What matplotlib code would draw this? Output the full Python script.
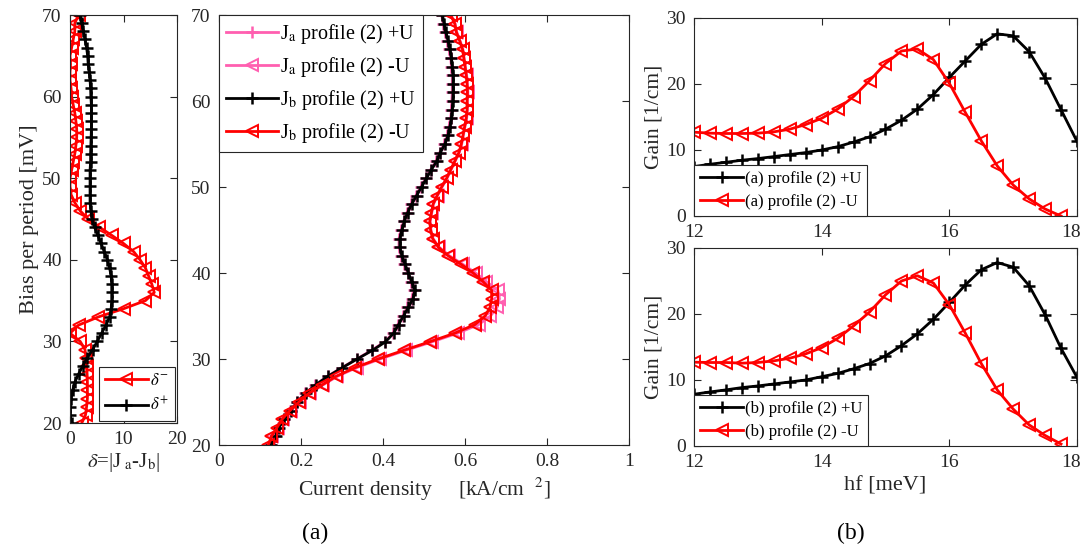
import numpy as np
import matplotlib.pyplot as plt
import matplotlib.transforms as mtrans

plt.rcParams["font.family"] = ["Liberation Serif", "DejaVu Serif"]
plt.rcParams["mathtext.fontset"] = "stix"

# ---- data ----
bias = np.arange(20, 71)  # mV, 20 ... 70

# delta (|Ja - Jb|) from bias 20 to 70
delta_minus = [2.2, 2.9, 3.1, 3.25, 3.25, 3.25, 3.2, 3.1, 3.0, 2.8, 1.9,
               0.0, 1.6, 5.3, 10.0, 14.1, 15.75, 15.3, 14.7, 14.1, 13.1,
               11.9, 10.0, 7.8, 5.5, 3.4, 1.9, 0.9, 0.2, 0.0, 0.0,
               0.3, 0.6, 0.9, 1.1, 1.25, 1.25, 1.1, 0.9, 0.6, 0.3,
               0.2, 0.0, 0.0, 0.1, 0.0, 0.3, 0.6, 0.9, 0.9, 1.6]
delta_plus = [0.3, 0.0, 0.0, 0.2, 0.5, 0.9, 1.6, 2.4, 3.25, 4.25, 5.1,
              5.9, 6.75, 7.4, 7.7, 7.8, 7.8, 7.8, 7.7, 7.4, 7.0,
              6.4, 5.8, 5.2, 4.6, 4.1, 3.9, 3.75, 3.75, 3.75, 3.75,
              3.75, 3.85, 3.85, 3.9, 3.95, 4.0, 4.0, 4.0, 4.0, 3.9,
              3.85, 3.75, 3.6, 3.4, 3.3, 3.1, 2.8, 2.5, 2.2, 1.9]

# current density [kA/cm^2], bias 20 ... 70
jb_plus = [0.128, 0.138, 0.146, 0.159, 0.175, 0.191, 0.211, 0.236, 0.266, 0.301, 0.337,
           0.374, 0.406, 0.426, 0.438, 0.450, 0.462, 0.473, 0.478, 0.470, 0.462,
           0.454, 0.446, 0.441, 0.441, 0.446, 0.452, 0.460, 0.470, 0.482, 0.494,
           0.506, 0.518, 0.531, 0.540, 0.551, 0.559, 0.563, 0.567, 0.569, 0.570,
           0.571, 0.571, 0.571, 0.569, 0.567, 0.563, 0.559, 0.553, 0.549, 0.545]
ja_plus = [0.126, 0.136, 0.145, 0.158, 0.174, 0.190, 0.210, 0.235, 0.265, 0.300, 0.336,
           0.372, 0.404, 0.424, 0.436, 0.448, 0.459, 0.470, 0.475, 0.468, 0.460,
           0.452, 0.444, 0.439, 0.439, 0.444, 0.450, 0.458, 0.468, 0.480, 0.492,
           0.504, 0.516, 0.529, 0.538, 0.549, 0.557, 0.561, 0.565, 0.567, 0.568,
           0.569, 0.569, 0.569, 0.567, 0.565, 0.561, 0.557, 0.551, 0.547, 0.543]
jb_minus = [0.120, 0.128, 0.141, 0.154, 0.173, 0.195, 0.219, 0.252, 0.286, 0.332, 0.388,
            0.450, 0.514, 0.575, 0.624, 0.649, 0.661, 0.665, 0.665, 0.644, 0.620,
            0.591, 0.559, 0.535, 0.521, 0.516, 0.514, 0.518, 0.522, 0.532, 0.543,
            0.555, 0.565, 0.575, 0.585, 0.591, 0.595, 0.599, 0.603, 0.605, 0.605,
            0.606, 0.605, 0.603, 0.600, 0.597, 0.594, 0.587, 0.579, 0.575, 0.565]
ja_minus = [0.122, 0.130, 0.143, 0.156, 0.175, 0.197, 0.221, 0.254, 0.289, 0.336, 0.393,
            0.455, 0.520, 0.582, 0.633, 0.662, 0.678, 0.684, 0.680, 0.652, 0.626,
            0.595, 0.562, 0.537, 0.522, 0.517, 0.515, 0.519, 0.523, 0.533, 0.544,
            0.556, 0.566, 0.576, 0.586, 0.592, 0.596, 0.600, 0.604, 0.606, 0.606,
            0.607, 0.606, 0.604, 0.601, 0.598, 0.595, 0.588, 0.580, 0.576, 0.566]

# gain spectra [1/cm] vs photon energy [meV]
hf = np.arange(12, 18.01, 0.25)
gain_a_plus = [7.49, 7.84, 8.14, 8.45, 8.70, 9.0, 9.31, 9.61, 10.0, 10.5, 11.2, 12.0, 13.15,
               14.5, 16.2, 18.4, 21.0, 23.5, 26.0, 27.6, 27.3, 24.9, 20.9, 16.1, 11.3]
gain_a_minus = [12.7, 12.55, 12.5, 12.5, 12.55, 12.75, 13.15, 13.86, 14.8, 16.2, 18.1, 20.5,
                23.1, 25.0, 25.3, 23.7, 20.1, 15.7, 11.4, 7.6, 4.7, 2.6, 1.06, 0.0]
gain_b_plus = [7.84, 8.19, 8.5, 8.85, 9.1, 9.4, 9.7, 10.0, 10.5, 11.0, 11.7, 12.5, 13.65,
               15.2, 17.0, 19.2, 21.75, 24.4, 26.7, 27.8, 27.1, 24.3, 19.9, 14.8, 10.4]
gain_b_minus = [12.7, 12.65, 12.65, 12.55, 12.65, 12.9, 13.3, 13.96, 14.9, 16.3, 18.2, 20.3,
                22.9, 25.0, 25.8, 24.7, 21.4, 17.1, 12.5, 8.5, 5.6, 3.2, 1.6, 0.3]

pink = "#ff5fb0"
grey = "#262626"
W, H = 1083, 549
fig = plt.figure(figsize=(W / 100, H / 100), dpi=100)


def box(l, t, r, b):
    return [l / W, 1 - b / H, (r - l) / W, (b - t) / H]


def style(ax):
    ax.tick_params(direction="in", top=True, right=True, labelsize=14,
                   colors=grey, length=5, width=0.8, pad=6)
    for s in ax.spines.values():
        s.set_color(grey)
        s.set_linewidth(0.8)


def legend(ax, loc, size, pad=0.15):
    lg = ax.legend(loc=loc, fontsize=size, fancybox=False, edgecolor=grey,
                   framealpha=1, borderpad=0.35, handlelength=2.6,
                   handletextpad=0.1, labelspacing=0.45, borderaxespad=pad)
    lg.get_frame().set_linewidth(0.8)
    return lg


tri = dict(marker="<", mfc="none", mew=1.4, ms=8, lw=2)
plus = dict(marker="+", mew=1.8, ms=9, lw=2)

# ---- panel: delta ----
ax1 = fig.add_axes(box(70, 15, 177, 423))
ax1.plot(delta_minus, bias, color="red", label=r"$\delta^{-}$", **tri)
ax1.plot(delta_plus, bias, color="black", label=r"$\delta^{+}$", **plus)
ax1.set_xlim(0, 20)
ax1.set_ylim(20, 70)
ax1.set_xticks([0, 10, 20])
ax1.set_yticks(range(20, 71, 10))
ax1.set_ylabel("Bias per period [mV]", fontsize=16, color=grey, labelpad=2)
ax1.set_xlabel(r"$\delta$=|J$_{\rm\ a}$-J$_{\rm b}$|", fontsize=15, color=grey, labelpad=2)
style(ax1)
legend(ax1, "lower right", 12)

# ---- panel: current density ----
ax2 = fig.add_axes(box(219, 15, 629, 445))
ax2.plot(ja_plus, bias, color=pink, label=r"J$_{\rm a}$ profile (2) +U", **plus)
ax2.plot(ja_minus, bias, color=pink, label=r"J$_{\rm a}$ profile (2) -U", **tri)
ax2.plot(jb_plus, bias, color="black", label=r"J$_{\rm b}$ profile (2) +U", **plus)
ax2.plot(jb_minus, bias, color="red", label=r"J$_{\rm b}$ profile (2) -U", **tri)
ax2.set_xlim(0, 1)
ax2.set_ylim(20, 70)
ax2.set_xticks([0, 0.2, 0.4, 0.6, 0.8, 1])
ax2.set_xticklabels(["0", "0.2", "0.4", "0.6", "0.8", "1"])
ax2.set_yticks(range(20, 71, 10))
ax2.set_xlabel(r"Current density     [kA/cm  $^{2}$]", fontsize=15.5, color=grey, labelpad=4)
style(ax2)
legend(ax2, "upper left", 14.5, pad=0)

# ---- panels: gain ----
ax3 = fig.add_axes(box(694, 18, 1077, 216))
ax4 = fig.add_axes(box(694, 248, 1077, 446))
for ax, gp, gm, tag in [(ax3, gain_a_plus, gain_a_minus, "(a)"),
                        (ax4, gain_b_plus, gain_b_minus, "(b)")]:
    ax.plot(hf, gp, color="black", label=tag + " profile (2) +U", **plus)
    ax.plot(hf[:len(gm)], gm, color="red", label=tag + " profile (2) -U", **tri)
    ax.set_xlim(12, 18)
    ax.set_ylim(0, 30)
    ax.set_xticks([12, 14, 16, 18])
    ax.set_yticks([0, 10, 20, 30])
    ax.set_ylabel("Gain [1/cm]", fontsize=15.5, color=grey, labelpad=2)
    style(ax)
    legend(ax, "lower left", 12, pad=0)
    # keep the last tick label inside the figure
    last = ax.get_xticklabels()[-1]
    last.set_transform(last.get_transform() +
                       mtrans.ScaledTranslation(-6 / 100, 0, fig.dpi_scale_trans))
ax4.set_xlabel("hf [meV]", fontsize=16, color=grey, labelpad=4)

fig.text(315 / W, 1 - 533 / H, "(a)", fontsize=17, ha="center", va="center")
fig.text(851 / W, 1 - 533 / H, "(b)", fontsize=17, ha="center", va="center")

fig.savefig("out.png", dpi=100)
